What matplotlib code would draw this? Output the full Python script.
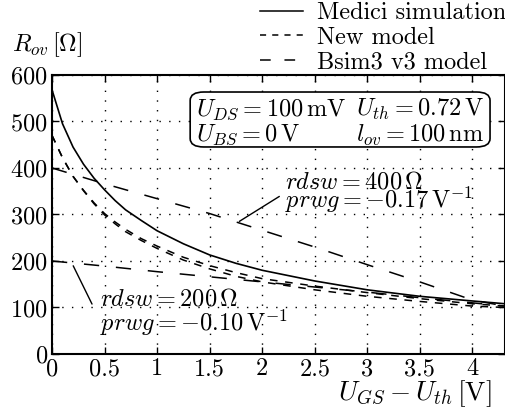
import matplotlib
matplotlib.use('Agg')
import matplotlib.pyplot as plt
from matplotlib.lines import Line2D
from matplotlib.patches import FancyBboxPatch

plt.rcParams['font.family'] = 'serif'
plt.rcParams['font.serif'] = ['cmr10']
plt.rcParams['mathtext.fontset'] = 'cm'
plt.rcParams['axes.formatter.use_mathtext'] = True
plt.rcParams['font.size'] = 17.5

# values
x_medici = [0, 0.1, 0.2, 0.3, 0.4, 0.5, 0.6, 0.7, 0.85, 1.0, 1.25, 1.5, 1.75, 2.0, 2.5, 3.0, 3.5, 4.0, 4.31]
r_medici = [568, 495, 445, 408, 378, 353, 330, 310, 287, 265, 237, 213, 195, 180, 157, 138, 124, 114, 108]

x_new = [0, 0.1, 0.2, 0.3, 0.4, 0.5, 0.6, 0.7, 0.85, 1.0, 1.25, 1.5, 1.75, 2.0, 2.5, 3.0, 3.5, 4.0, 4.31]
r_new_a = [470, 422, 382, 352, 325, 302, 284, 268, 248, 232, 208, 190, 175, 162, 146, 132, 119, 108, 103]
r_new_b = [470, 422, 382, 351, 323, 299, 280, 263, 244, 227, 202, 183, 167, 155, 138, 124, 113, 103, 100]

x_bsim = [0, 0.5, 1.0, 1.5, 2.0, 2.5, 3.0, 3.5, 4.0, 4.31]
r_bsim_400 = [400, 366, 334, 302, 266, 230, 192, 155, 116, 103]
r_bsim_200 = [200, 189, 177, 166, 155, 144, 133, 121, 110, 103]

x_ticks = [0, 0.5, 1, 1.5, 2, 2.5, 3, 3.5, 4]
x_tick_labels = ['0', '0.5', '1', '1.5', '2', '2.5', '3', '3.5', '4']
y_ticks = [0, 100, 200, 300, 400, 500, 600]

new_style = (0, (5, 5))
bsim_style = (0, (10, 11))

fig = plt.figure(figsize=(5.06, 4.08), dpi=100)
ax = fig.add_axes([0.1028, 0.1324, 0.8952, 0.6838])

ax.plot(x_medici, r_medici, color='black', lw=1.2)
ax.plot(x_new, r_new_a, color='black', lw=1.1, linestyle=new_style)
ax.plot(x_new, r_new_b, color='black', lw=1.1, linestyle=new_style)
ax.plot(x_bsim, r_bsim_400, color='black', lw=1.1, linestyle=bsim_style)
ax.plot(x_bsim, r_bsim_200, color='black', lw=1.1, linestyle=bsim_style)

ax.set_xlim(0, 4.31)
ax.set_ylim(0, 600)
ax.set_xticks(x_ticks)
ax.set_xticklabels(x_tick_labels)
ax.set_yticks(y_ticks)
ax.tick_params(direction='in', top=True, right=True, length=5, width=1, pad=3)
ax.grid(True, color='black', linestyle=(0, (1, 6)), lw=1.0)
for s in ax.spines.values():
    s.set_linewidth(1.5)

# parameter box
box = FancyBboxPatch((0.305, 0.742), 0.662, 0.197, boxstyle='round,pad=0,rounding_size=0.03',
                     transform=ax.transAxes, facecolor='white', edgecolor='black', lw=1.2, zorder=3)
ax.add_patch(box)
ax.text(0.318, 0.875, r'$U_{DS}=100\,\mathrm{mV}$', transform=ax.transAxes, ha='left', va='center', zorder=4)
ax.text(0.953, 0.875, r'$U_{th}=0.72\,\mathrm{V}$', transform=ax.transAxes, ha='right', va='center', zorder=4)
ax.text(0.318, 0.785, r'$U_{BS}=0\,\mathrm{V}$', transform=ax.transAxes, ha='left', va='center', zorder=4)
ax.text(0.953, 0.785, r'$l_{ov}=100\,\mathrm{nm}$', transform=ax.transAxes, ha='right', va='center', zorder=4)

# curve labels with pointers
ax.annotate('', xy=(1.76, 282), xycoords='data', xytext=(0.507, 0.570), textcoords='axes fraction',
            arrowprops=dict(arrowstyle='-', color='black', lw=1))
ax.text(0.514, 0.616, r'$rdsw=400\,\Omega$', transform=ax.transAxes, ha='left', va='center')
ax.text(0.514, 0.552, r'$prwg=-0.17\,\mathrm{V}^{-1}$', transform=ax.transAxes, ha='left', va='center')

ax.annotate('', xy=(0.19, 195), xycoords='data', xytext=(0.091, 0.170), textcoords='axes fraction',
            arrowprops=dict(arrowstyle='-', color='black', lw=1))
ax.text(0.106, 0.197, r'$rdsw=200\,\Omega$', transform=ax.transAxes, ha='left', va='center')
ax.text(0.106, 0.111, r'$prwg=-0.10\,\mathrm{V}^{-1}$', transform=ax.transAxes, ha='left', va='center')

# axis labels
fig.text(12 / 506, 1 - 45 / 408, r'$R_{ov}\,[\Omega]$', ha='left', va='center')
fig.text(491 / 506, 1 - 394 / 408, r'$U_{GS}-U_{th}\,[\mathrm{V}]$', ha='right', va='center', fontsize=19.5)

handles = [Line2D([], [], color='black', lw=1.1),
           Line2D([], [], color='black', lw=1.1, linestyle=(0, (4, 4))),
           Line2D([], [], color='black', lw=1.1, linestyle=(0, (7, 9)))]
labels = ['Medici simulation', 'New model', 'Bsim3 v3 model']
fig.legend(handles, labels, loc='upper right', bbox_to_anchor=(1.0, 0.995), frameon=False,
           handlelength=1.8, handletextpad=0.55, labelspacing=0.1, borderpad=0.0, borderaxespad=0.0)

fig.savefig('out.png', dpi=100)
